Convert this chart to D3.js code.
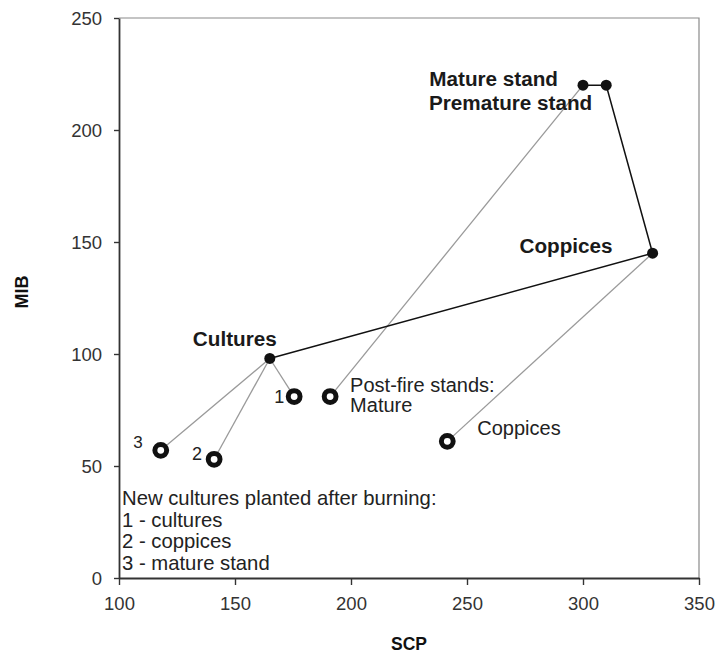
<!DOCTYPE html>
<html>
<head>
<meta charset="utf-8">
<script src="https://cdn.jsdelivr.net/npm/d3@7"></script>
<style>
  html, body { margin: 0; padding: 0; background: #fff; }
  svg { display: block; font-family: "Liberation Sans", Arial, sans-serif; }
</style>
</head>
<body>
<svg id="chart" width="717" height="653"></svg>
<script>
// Stand types before fire (solid dots, joined by the black path)
const standNames = ["Cultures", "Coppices", "Premature stand", "Mature stand"];
const standSCP   = [165, 330, 310, 300];
const standMIB   = [98, 145, 220, 220];

// Post-fire stands (open rings), each linked to the stand type it came from
const postNames  = ["1", "2", "3", "Mature", "Coppices"];
const postSCP    = [175.5, 141, 118, 191, 241.5];
const postMIB    = [81, 53, 57, 81, 61];
const postOrigin = ["Cultures", "Cultures", "Cultures", "Mature stand", "Coppices"];

// Axis ticks
const xTicks = [100, 150, 200, 250, 300, 350];
const yTicks = [0, 50, 100, 150, 200, 250];

const legendLines = [
  "New cultures planted after burning:",
  "1 - cultures",
  "2 - coppices",
  "3 - mature stand"
];

const svg = d3.select("#chart");
const m = { left: 119, top: 18, right: 699, bottom: 578 };

const x = d3.scaleLinear().domain([100, 350]).range([m.left, m.right]);
const y = d3.scaleLinear().domain([0, 250]).range([m.bottom, m.top]);

const stands = standNames.map((n, i) => ({ name: n, scp: standSCP[i], mib: standMIB[i] }));
const byName = Object.fromEntries(stands.map(d => [d.name, d]));
const post = postNames.map((n, i) => ({ name: n, scp: postSCP[i], mib: postMIB[i], from: byName[postOrigin[i]] }));

// Frame: light top/right border
svg.append("path")
  .attr("d", `M${m.left},${m.top}H${m.right}V${m.bottom}`)
  .attr("fill", "none").attr("stroke", "#8a8a8a").attr("stroke-width", 1.2);

// Axes
const xAxis = svg.append("g")
  .attr("transform", `translate(0,${m.bottom})`)
  .call(d3.axisBottom(x).tickValues(xTicks).tickSize(7).tickSizeOuter(0).tickPadding(7));
const yAxis = svg.append("g")
  .attr("transform", `translate(${m.left},0)`)
  .call(d3.axisLeft(y).tickValues(yTicks).tickSize(5).tickSizeOuter(0).tickPadding(12));

[xAxis, yAxis].forEach(g => {
  g.select(".domain").attr("stroke", "#333").attr("stroke-width", 1.8);
  g.selectAll(".tick line").attr("stroke", "#333").attr("stroke-width", 1.4);
  g.selectAll(".tick text")
    .attr("font-family", "'Liberation Sans', Arial, sans-serif")
    .attr("font-size", 18.5).attr("fill", "#333");
});
xAxis.selectAll(".tick text").attr("dy", "0.95em");
yAxis.selectAll(".tick text").attr("dy", "0.36em");

// Axis titles
svg.append("text")
  .attr("x", (m.left + m.right) / 2).attr("y", 650)
  .attr("text-anchor", "middle").attr("font-size", 17.5).attr("font-weight", "bold")
  .attr("fill", "#111").text("SCP");
svg.append("text")
  .attr("transform", `translate(28,${(m.top + m.bottom) / 2 - 6}) rotate(-90)`)
  .attr("text-anchor", "middle").attr("font-size", 18).attr("font-weight", "bold")
  .attr("fill", "#111").text("MIB");

// Grey links from each stand type to its post-fire stand
svg.append("g").selectAll("line").data(post).join("line")
  .attr("x1", d => x(d.from.scp)).attr("y1", d => y(d.from.mib))
  .attr("x2", d => x(d.scp)).attr("y2", d => y(d.mib))
  .attr("stroke", "#9a9a9a").attr("stroke-width", 1.3);

// Black path through the stand types
svg.append("path")
  .datum(stands)
  .attr("d", d3.line().x(d => x(d.scp)).y(d => y(d.mib)))
  .attr("fill", "none").attr("stroke", "#111").attr("stroke-width", 1.5);

// Solid dots
svg.append("g").selectAll("circle").data(stands).join("circle")
  .attr("cx", d => x(d.scp)).attr("cy", d => y(d.mib)).attr("r", 5.5)
  .attr("fill", "#111");

// Open rings
svg.append("g").selectAll("circle").data(post).join("circle")
  .attr("cx", d => x(d.scp)).attr("cy", d => y(d.mib)).attr("r", 5.9)
  .attr("fill", "#fff").attr("stroke", "#111").attr("stroke-width", 5);

// Labels placed relative to their points
function label(px, py, dx, dy, text, opts = {}) {
  svg.append("text")
    .attr("x", x(px) + dx).attr("y", y(py) + dy)
    .attr("text-anchor", opts.anchor || "start")
    .attr("font-size", opts.size || 20)
    .attr("font-weight", opts.bold ? "bold" : "normal")
    .attr("fill", opts.fill || "#222")
    .text(text);
}

const mat = byName["Mature stand"], cop = byName["Coppices"], cul = byName["Cultures"];
label(mat.scp, mat.mib, -25, 1, "Mature stand", { anchor: "end", bold: true, size: 20.7, fill: "#1a1a1a" });
label(mat.scp, mat.mib, -154, 25, "Premature stand", { bold: true, size: 20.7, fill: "#1a1a1a" });
label(cop.scp, cop.mib, -40, 0, "Coppices", { anchor: "end", bold: true, size: 20.7, fill: "#1a1a1a" });
label(cul.scp, cul.mib, -35, -12, "Cultures", { anchor: "middle", bold: true, size: 20.7, fill: "#1a1a1a" });

label(post[0].scp, post[0].mib, -10, 6, "1", { anchor: "end", size: 18 });
label(post[1].scp, post[1].mib, -12, 1, "2", { anchor: "end", size: 18 });
label(post[2].scp, post[2].mib, -18, -2, "3", { anchor: "end", size: 17 });
label(post[3].scp, post[3].mib, 20, -5, "Post-fire stands:");
label(post[3].scp, post[3].mib, 20, 15, "Mature");
label(post[4].scp, post[4].mib, 30, -6, "Coppices");

// Note in the lower-left corner
svg.append("g").selectAll("text").data(legendLines).join("text")
  .attr("x", m.left + 3)
  .attr("y", (d, i) => m.bottom - 73 + i * 21.5)
  .attr("font-size", 20.3).attr("fill", "#222")
  .text(d => d);
</script>
</body>
</html>
